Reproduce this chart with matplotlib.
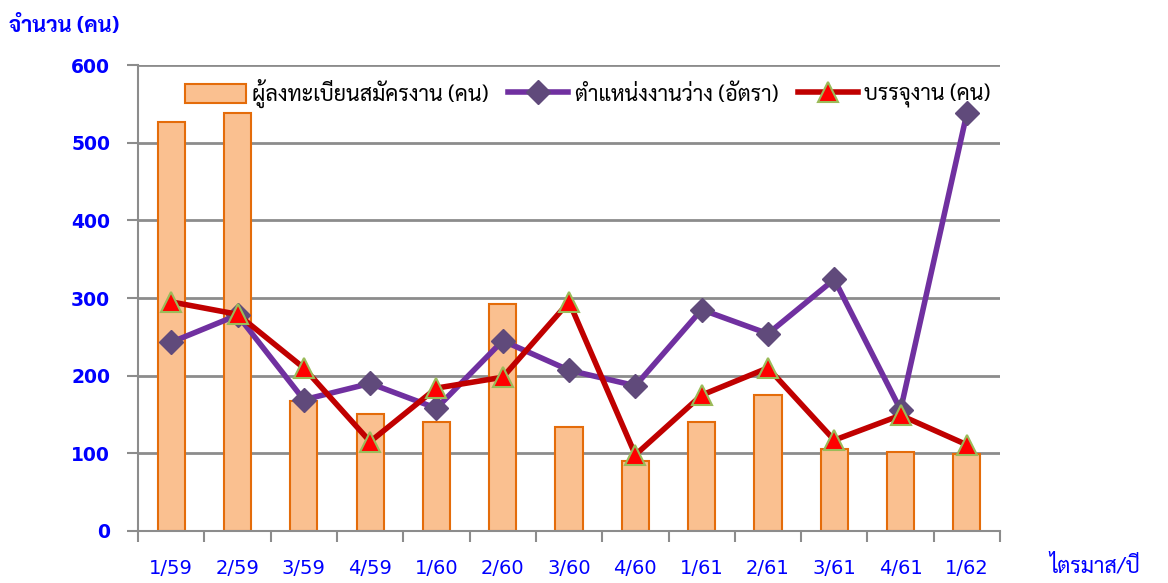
import matplotlib
matplotlib.use("Agg")
import matplotlib.pyplot as plt
import numpy as np

# ข้อมูลรายไตรมาส
quarters = ['1/59', '2/59', '3/59', '4/59', '1/60', '2/60', '3/60',
            '4/60', '1/61', '2/61', '3/61', '4/61', '1/62']
applicants = [527, 538, 167, 151, 140, 292, 134, 90, 140, 175, 106, 102, 99]
vacancies = [243, 278, 169, 190, 158, 245, 207, 187, 285, 254, 324, 156, 538]
placements = [295, 279, 210, 115, 184, 198, 295, 98, 175, 210, 117, 149, 111]

lbl_bar = 'ผู้ลงทะเบียนสมัครงาน (คน)'
lbl_vac = 'ตำแหน่งงานว่าง (อัตรา)'
lbl_place = 'บรรจุงาน (คน)'

thai = ['Sarabun', 'DejaVu Sans']
blue = '#0000FF'

fig = plt.figure(figsize=(11.68, 5.83), dpi=100)
ax = fig.add_axes([0.1182, 0.0892, 0.7380, 0.7993])

x = np.arange(len(quarters))
bars = ax.bar(x, applicants, width=0.41, color='#FAC090', edgecolor='#E46C0A',
              linewidth=1.5, label=lbl_bar, zorder=2)
l_vac, = ax.plot(x, vacancies, color='#7030A0', lw=4, marker='D', ms=12,
                 mfc='#604A7B', mec='#604A7B', label=lbl_vac, zorder=3)
l_place, = ax.plot(x, placements, color='#C00000', lw=4, marker='^', ms=15,
                   mfc='#FF0000', mec='#9BBB59', mew=1.5, label=lbl_place,
                   zorder=4)

ax.set_xlim(-0.5, len(quarters) - 0.5)
ax.set_ylim(0, 600)
ax.set_yticks(range(0, 601, 100))
ax.yaxis.grid(True, color='#8C8C8C', lw=2, zorder=0)
ax.set_axisbelow(True)

for s in ['top', 'right']:
    ax.spines[s].set_visible(False)
for s in ['left', 'bottom']:
    ax.spines[s].set_color('#8C8C8C')
    ax.spines[s].set_linewidth(1.5)

ax.set_xticks(x)
ax.set_xticklabels(quarters, color=blue, fontsize=14)
ax.set_xticks(np.arange(-0.5, len(quarters)), minor=True)
ax.tick_params(axis='x', which='major', length=0, pad=20)
ax.tick_params(axis='x', which='minor', length=8, width=1.5, color='#8C8C8C')
ax.tick_params(axis='y', length=8, width=1.5, color='#8C8C8C', pad=12,
               labelcolor=blue, labelsize=13.5)
for t in ax.get_yticklabels():
    t.set_fontweight('bold')

fig.text(0.008, 0.955, 'จำนวน (คน)', color=blue, fontsize=15.5,
         fontweight='bold', family=thai, ha='left', va='center')
fig.text(0.976, 0.028, 'ไตรมาส/ปี', color=blue, fontsize=15.5,
         family=thai, ha='right', va='center')

ax.legend([bars, l_vac, l_place], [lbl_bar, lbl_vac, lbl_place],
          loc='upper center', bbox_to_anchor=(0.522, 1.012), ncol=3,
          frameon=False, prop={'family': thai, 'size': 15.5},
          handlelength=2.8, handleheight=1.0, columnspacing=0.9,
          handletextpad=0.3)

fig.savefig('out.png', dpi=100)
